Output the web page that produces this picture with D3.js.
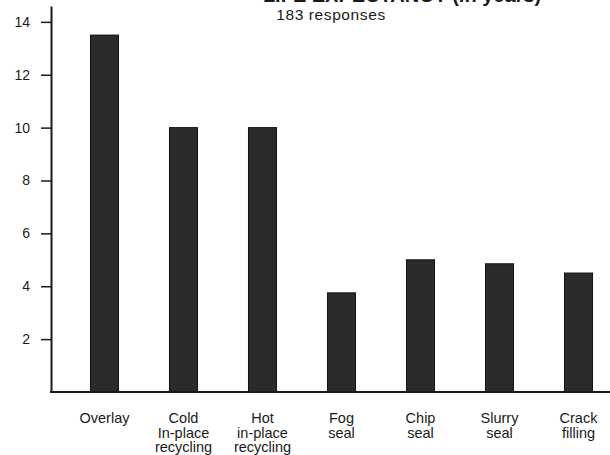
<!DOCTYPE html>
<html>
<head>
<meta charset="utf-8">
<script src="https://cdn.jsdelivr.net/npm/d3@7"></script>
<style>
  body { margin: 0; background: #fff; }
  svg { display: block; font-family: "Liberation Sans", Arial, sans-serif; }
</style>
</head>
<body>
<svg id="chart" width="610" height="455"></svg>
<script>
// chart data
const categories = [
    ["Overlay"],
    ["Cold", "In-place", "recycling"],
    ["Hot", "in-place", "recycling"],
    ["Fog", "seal"],
    ["Chip", "seal"],
    ["Slurry", "seal"],
    ["Crack", "filling"]
];
const years = [13.5, 10, 10, 3.75, 5, 4.85, 4.5];
const yTicks = [2, 4, 6, 8, 10, 12, 14];

const svg = d3.select("#chart");
const ink = "#1a1a1a";

const x = d3.scaleBand()
    .domain(d3.range(categories.length))
    .range([65, 618])
    .paddingInner(0.645)
    .paddingOuter(0.3225);

const y = d3.scaleLinear()
    .domain([0, 14.6])
    .range([392, 6]);

// title (cut off at the top edge, as in the scan)
svg.append("text")
    .attr("x", 402).attr("y", 2)
    .attr("text-anchor", "middle")
    .attr("font-size", 20).attr("font-weight", "bold")
    .attr("fill", ink)
    .text("LIFE EXPECTANCY (in years)");

svg.append("text")
    .attr("x", 331).attr("y", 20)
    .attr("text-anchor", "middle")
    .attr("font-size", 15.5)
    .attr("letter-spacing", 0.6)
    .attr("fill", ink)
    .text("183 responses");

// bars
svg.append("g")
    .selectAll("rect")
    .data(years)
    .join("rect")
    .attr("x", (d, i) => x(i))
    .attr("y", d => y(d))
    .attr("width", x.bandwidth())
    .attr("height", d => y(0) - y(d))
    .attr("fill", "#2b2b2b")
    .attr("stroke", "#111")
    .attr("stroke-width", 1);

// y axis
const yAxis = svg.append("g")
    .attr("transform", "translate(51,0)")
    .call(d3.axisLeft(y).tickValues(yTicks).tickSize(10).tickPadding(11).tickSizeOuter(0));
yAxis.select(".domain").attr("stroke", ink).attr("stroke-width", 2);
yAxis.selectAll(".tick line").attr("stroke", ink).attr("stroke-width", 1.5);
yAxis.selectAll(".tick text")
    .attr("font-size", 14)
    .attr("font-family", "Liberation Sans, Arial, sans-serif")
    .attr("fill", ink);

// x axis line
svg.append("line")
    .attr("x1", 50).attr("x2", 610)
    .attr("y1", y(0)).attr("y2", y(0))
    .attr("stroke", ink).attr("stroke-width", 2);

// category labels
const labels = svg.append("g")
    .selectAll("text")
    .data(categories)
    .join("text")
    .attr("text-anchor", "middle")
    .attr("font-size", 14.5)
    .attr("fill", ink)
    .attr("transform", (d, i) => `translate(${x(i) + x.bandwidth() / 2},${y(0) + 31})`);

labels.selectAll("tspan")
    .data(d => d)
    .join("tspan")
    .attr("x", 0)
    .attr("dy", (d, i) => i === 0 ? 0 : 14.5)
    .text(d => d);
</script>
</body>
</html>
